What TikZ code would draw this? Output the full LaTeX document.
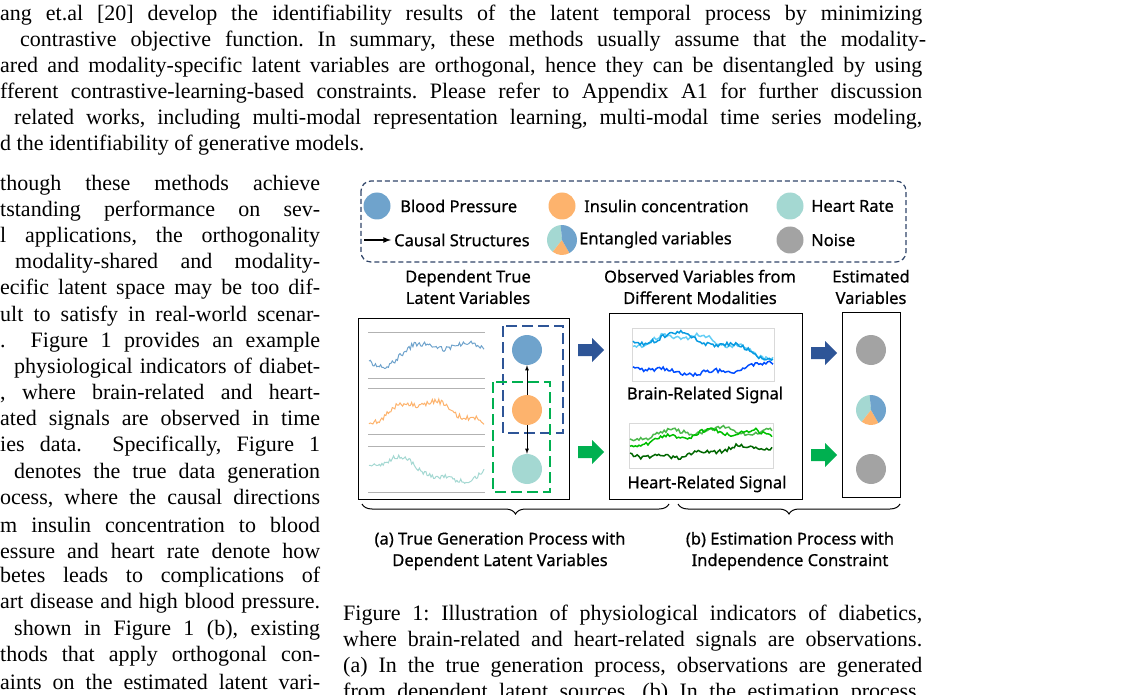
\documentclass[tikz,border=0pt]{standalone}
\usepackage{fontspec}
\setmainfont{Liberation Serif}
\newfontfamily\figfont[FakeBold=0.6]{Noto Sans}
\usetikzlibrary{positioning,decorations.pathreplacing}
\definecolor{bpblue}{HTML}{6FA3CC}
\definecolor{inorange}{HTML}{FDB36D}
\definecolor{hrteal}{HTML}{A4D8D2}
\definecolor{noisegray}{HTML}{A3A3A3}
\definecolor{darkblue}{HTML}{2E5597}
\definecolor{legendblue}{HTML}{2F4468}
\definecolor{arrgreen}{HTML}{00B050}
\tikzstyle{body} = [anchor=west, inner sep=0pt, font=\fontsize{22}{24}\selectfont]
\tikzstyle{lab} = [inner sep=0pt, align=center, font=\figfont\fontsize{16.5}{21.5}\selectfont]
\tikzstyle{var} = [circle, minimum size=30pt, inner sep=0pt]
\tikzstyle{frame} = [draw, line width=1.3pt]
\tikzstyle{panel} = [draw=gray!60, line width=0.8pt]
\tikzstyle{causal} = [-latex, line width=0.8pt]
\tikzstyle{brace} = [decorate, decoration={brace, amplitude=10pt, mirror}, line width=1pt]
\newcommand{\entangled}[1]{%
  \fill[hrteal] (#1) -- +(95:15pt) arc[start angle=95, end angle=232, radius=15pt] -- cycle;
  \fill[inorange] (#1) -- +(232:15pt) arc[start angle=232, end angle=300, radius=15pt] -- cycle;
  \fill[bpblue] (#1) -- +(300:15pt) arc[start angle=300, end angle=455, radius=15pt] -- cycle;}
\newcommand{\bigarrow}[2]{%
  \fill[#2] (#1) ++(-13,-6) -- ++(14,0) -- ++(0,-6) -- ++(12,12) -- ++(-12,12) -- ++(0,-6) -- ++(-14,0) -- cycle;}
\begin{document}
\frenchspacing
\begin{tikzpicture}[x=1pt, y=-1pt]
    \useasboundingbox (0,0) rectangle (1138,695);
    % Page text
    \foreach \ys/\xs/\w/\t in {
      15/0/922/{ang et.al [20] develop the identifiability results of the latent temporal process by minimizing},
      41/20/906/{contrastive objective function. In summary, these methods usually assume that the modality-},
      67/0/922/{ared and modality-specific latent variables are orthogonal, hence they can be disentangled by using},
      93/0/922/{fferent contrastive-learning-based constraints. Please refer to Appendix A1 for further discussion},
      119/14/908/{related works, including multi-modal representation learning, multi-modal time series modeling,}}
      \node [body] at (\xs,\ys) {\makebox[\w pt][s]{\t}};
    \node [body] at (0,145) {d the identifiability of generative models.};
    \foreach \ys/\xs/\t in {
      185/0/{though these methods achieve},
      211/0/{tstanding performance on sev-},
      237/0/{l applications, the orthogonality},
      263/15/{modality-shared and modality-},
      289/0/{ecific latent space may be too dif-},
      316/0/{ult to satisfy in real-world scenar-},
      342/0/{.\ \ Figure 1 provides an example},
      368/14/{physiological indicators of diabet-},
      394/0/{, where brain-related and heart-},
      420/0/{ated signals are observed in time},
      446/0/{ies data.\ \ Specifically, Figure 1},
      473/14/{denotes the true data generation},
      499/0/{ocess, where the causal directions},
      525/0/{m insulin concentration to blood},
      551/0/{essure and heart rate denote how},
      577/0/{betes leads to complications of},
      603/0/{art disease and high blood pressure.},
      630/14/{shown in Figure 1 (b), existing},
      656/0/{thods that apply orthogonal con-},
      682/0/{aints on the estimated latent vari-}}
      \node [body] at (\xs,\ys) {\makebox[\the\dimexpr320pt-\xs pt\relax][s]{\t}};
    \foreach \ys/\t in {
      615/{Figure 1: Illustration of physiological indicators of diabetics,},
      641/{where brain-related and heart-related signals are observations.},
      667/{(a) In the true generation process, observations are generated},
      693/{from dependent latent sources. (b) In the estimation process,}}
      \node [body] at (343,\ys) {\makebox[579pt][s]{\t}};
    % Legend
    \draw [legendblue, dashed, dash pattern=on 5pt off 3pt, line width=1.2pt, rounded corners=10pt] (361,181) rectangle (906,262);
    \node [var, fill=bpblue, minimum size=27pt] (lbp) at (377,206) {};
    \node [lab, anchor=west] at (400,206) {Blood Pressure};
    \node [var, fill=inorange, minimum size=27pt] (lin) at (562,206) {};
    \node [lab, anchor=west] at (584,206) {Insulin concentration};
    \node [var, fill=hrteal, minimum size=27pt] (lhr) at (790,206) {};
    \node [lab, anchor=west] at (811,206) {Heart Rate};
    \coordinate (ca) at (364,240);
    \coordinate (cb) at (391,240);
    \draw [-latex, line width=1.6pt] (ca) -- (cb);
    \node [lab, anchor=west] at (394,240) {Causal Structures};
    \entangled{562,240}
    \node [lab, anchor=west] at (579,240) {Entangled variables};
    \node [var, fill=noisegray, minimum size=27pt] (lno) at (790,240) {};
    \node [lab, anchor=west] at (811,240) {Noise};
    % Titles
    \node [lab] at (468,287) {Dependent True\\Latent Variables};
    \node [lab] at (700,287) {Observed Variables from\\Different Modalities};
    \node [lab] at (871,287) {Estimated\\Variables};
    % Latent box
    \node [frame, minimum width=211pt, minimum height=181pt, anchor=north west] (latent) at (358,318) {};
    \foreach \t in {332,388,446} {
      \draw [panel] (368,\t) -- (485,\t);
      \draw [panel] (368,\t+46) -- (485,\t+46);
    }
    \pgfmathsetseed{7}
    \draw [bpblue, line width=1pt] plot[domain=369:484, samples=90] (\x,{352+9*sin((\x-369)*2.6+70)+6*sin((\x-369)*6)+2.5*rand});
    \draw [inorange, line width=1pt] plot[domain=369:484, samples=90] (\x,{414-12*sin((\x-369)*2.4-40)+3*sin((\x-369)*9)+2.5*rand});
    \draw [hrteal, line width=1pt] plot[domain=369:484, samples=90] (\x,{470-11*sin((\x-369)*2.9+20)+3*sin((\x-369)*8)+2.5*rand});
    \draw [darkblue, dashed, dash pattern=on 11pt off 5pt, line width=1.6pt] (503,326) rectangle (563,433);
    \draw [arrgreen, dashed, dash pattern=on 11pt off 5pt, line width=1.6pt] (493,382) rectangle (550,492);
    \node [var, fill=bpblue] (bp) at (527,350) {};
    \node [var, fill=inorange] (ins) at (527,410) {};
    \node [var, fill=hrteal] (hr) at (527,469) {};
    \draw [causal] (ins) -- (bp);
    \draw [causal] (ins) -- (hr);
    % Observed box
    \node [frame, minimum width=193pt, minimum height=186pt, anchor=north west] (observed) at (609,313) {};
    \draw [gray!30] (632,328) rectangle (774,381);
    \draw [gray!30] (629,423) rectangle (773,468);
    \draw [cyan!60!white, line width=1.5pt] plot[domain=633:773, samples=80] (\x,{348-12*sin((\x-633)*1.6+10)+3*sin((\x-633)*9)+2*rand});
    \draw [cyan!85!blue, line width=1.5pt] plot[domain=633:773, samples=80] (\x,{346-10*sin((\x-633)*1.7+20)+4*sin((\x-633)*6)+2*rand});
    \draw [blue!70!cyan, line width=1.5pt] plot[domain=633:773, samples=80] (\x,{364+9*sin((\x-633)*1.3+10)+2*sin((\x-633)*8)+2*rand});
    \draw [green!60!black!70!white, line width=1.5pt] plot[domain=630:772, samples=80] (\x,{440-10*sin((\x-630)*0.9+10)+3*sin((\x-630)*7)+2*rand});
    \draw [green!75!black, line width=1.5pt] plot[domain=630:772, samples=80] (\x,{443-11*sin((\x-630)*1.0-10)+3*sin((\x-630)*8)+2*rand});
    \draw [green!40!black, line width=1.5pt] plot[domain=630:772, samples=80] (\x,{452+5*sin((\x-630)*2.1+20)+2*sin((\x-630)*9)+2*rand});
    \node [lab] at (705,395) {Brain-Related Signal};
    \node [lab] at (707,484) {Heart-Related Signal};
    % Estimated box
    \node [frame, minimum width=58pt, minimum height=185pt, anchor=north west] (estimated) at (842,312) {};
    \node [var, fill=noisegray] (est1) at (871,350) {};
    \entangled{871,410}
    \node [var, fill=noisegray] (est3) at (871,469) {};
    % Big arrows
    \bigarrow{591,350}{darkblue}
    \bigarrow{591,452}{arrgreen}
    \bigarrow{824,353}{darkblue}
    \bigarrow{824,455}{arrgreen}
    % Braces
    \coordinate (ba1) at (362,504);
    \coordinate (ba2) at (669,504);
    \coordinate (bb1) at (678,504);
    \coordinate (bb2) at (900,504);
    \draw [brace] (ba1) -- (ba2);
    \draw [brace] (bb1) -- (bb2);
    \node [lab] at (500,551) {(a) True Generation Process with\\Dependent Latent Variables};
    \node [lab] at (790,551) {(b) Estimation Process with\\Independence Constraint};
\end{tikzpicture}
\end{document}
